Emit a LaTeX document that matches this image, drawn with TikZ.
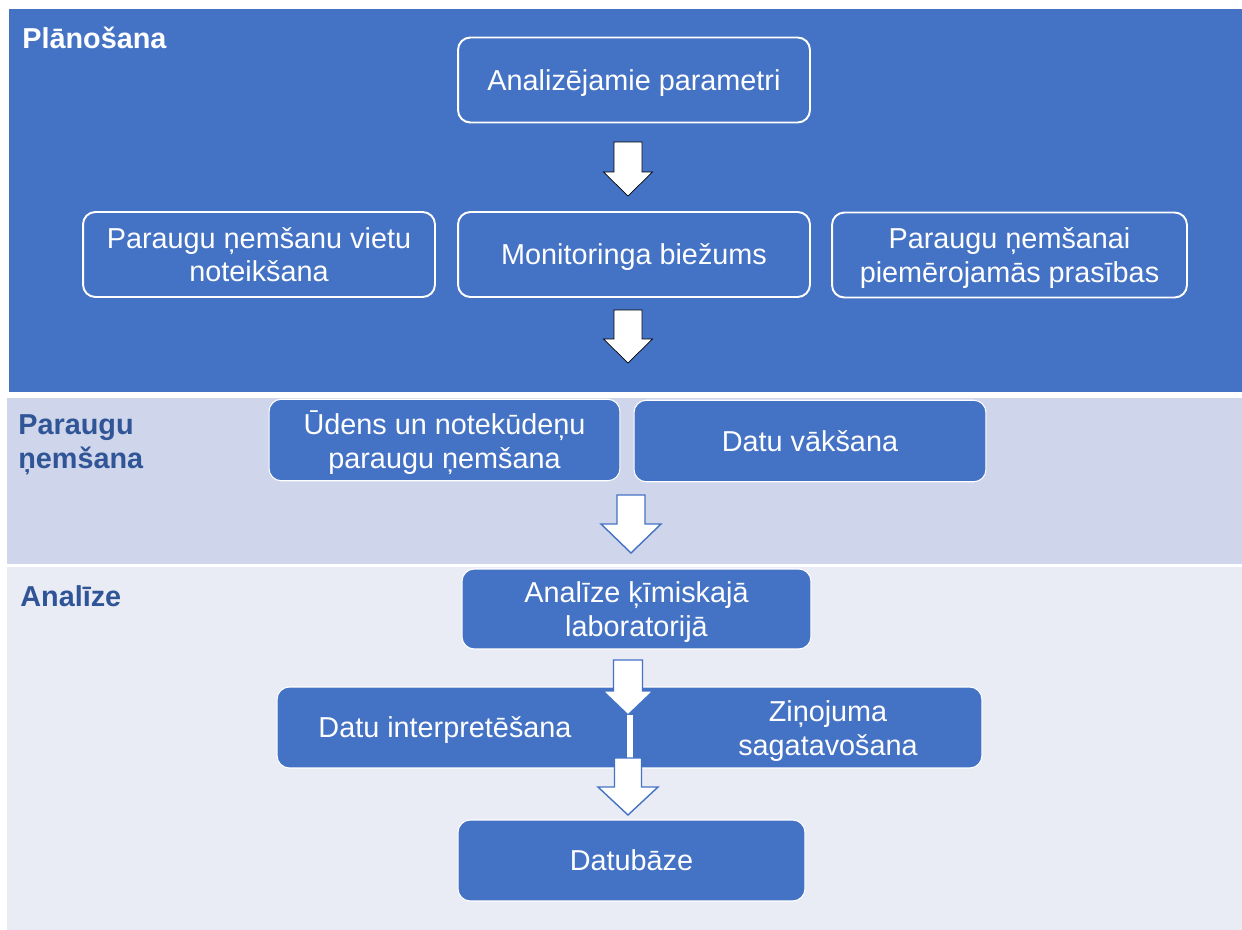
\documentclass[tikz,border=0pt]{standalone}
\usepackage{fontspec}
\setmainfont{Liberation Sans}
\usepackage{tikz}
\usetikzlibrary{positioning, calc}

\definecolor{planblue}{HTML}{4472C4}
\definecolor{bandmid}{HTML}{CFD5EA}
\definecolor{bandlow}{HTML}{E9EBF5}
\definecolor{titleblue}{HTML}{2F5597}

\newcommand{\blockarrow}[7][]{\draw[#1] (#2-#6,#3) -- (#2+#6,#3) -- (#2+#6,#4) -- (#2+#7,#4) -- (#2,#5) -- (#2-#7,#4) -- (#2-#6,#4) -- cycle;}

\begin{document}
\begin{tikzpicture}[x=0.02cm, y=-0.02cm,
  txt/.style={font=\fontsize{16.4}{19.3}\selectfont, align=center, text=white, inner sep=0pt, text depth=0pt},
  plan/.style={txt, draw=white, line width=1.1pt, rounded corners=7pt, minimum width=7.04cm, minimum height=1.7cm},
  stage/.style={txt, fill=planblue, draw=white, line width=0.6pt, rounded corners=7pt, minimum width=7.04cm, minimum height=1.63cm},
  title/.style={font=\fontsize{16.4}{19.3}\selectfont\bfseries, align=left, anchor=west, inner sep=0pt}]

\useasboundingbox (0,0) rectangle (1242,930);
\fill[white] (0,0) rectangle (1242,930);

\fill[planblue] (9,9) rectangle (1242,392);
\fill[bandmid] (7,398) rectangle (1242,564);
\fill[bandlow] (7,567) rectangle (1242,930);

\node[title, text=white] (planning) at (22,38) {Plānošana};
\node[title, text=titleblue] (sampling) at (18,445) {Paraugu\\ņemšana};
\node[title, text=titleblue] (analysis) at (20,596) {Analīze};

\node[plan] (params) at (634,80) {Analizējamie parametri};
\node[plan] (sites) at (259,254.5) {Paraugu ņemšanu vietu\\noteikšana};
\node[plan] (freq) at (634,254.5) {Monitoringa biežums};
\node[plan, minimum width=7.1cm] (reqs) at (1009.5,255) {Paraugu ņemšanai\\piemērojamās prasības};

\blockarrow[fill=white] {628}{142}{172}{196}{14}{24.5}
\blockarrow[fill=white] {628}{310}{339}{363}{14}{24.5}

\node[stage, minimum width=7.02cm] (water) at (444.5,440) {Ūdens un notekūdeņu\\paraugu ņemšana};
\node[stage] (collect) at (810,441) {Datu vākšana};

\blockarrow[fill=white, draw=planblue, line width=0.8pt] {631}{495}{524}{553}{14}{30}

\node[stage, minimum width=6.98cm, minimum height=1.6cm] (lab) at (636.5,609) {Analīze ķīmiskajā\\laboratorijā};
\node[stage, minimum width=14.1cm, minimum height=1.62cm] (report) at (629.5,727.5) {};
\node[txt] (interp) at (445,727) {Datu interpretēšana};
\node[txt] (draft) at (828,728) {Ziņojuma\\sagatavošana};
\node[stage, minimum width=6.94cm, minimum height=1.62cm] (db) at (631.5,860.5) {Datubāze};

\blockarrow[fill=white, draw=planblue, line width=0.8pt] {628}{660}{691}{715}{14.5}{25}
\coordinate (tipa) at (630,715);
\coordinate (topb) at (630,758);
\draw[white, line width=3.4pt] (tipa) -- (topb);
\blockarrow[fill=white, draw=planblue, line width=0.8pt] {628}{758}{787}{815}{13.5}{30}

\end{tikzpicture}
\end{document}
